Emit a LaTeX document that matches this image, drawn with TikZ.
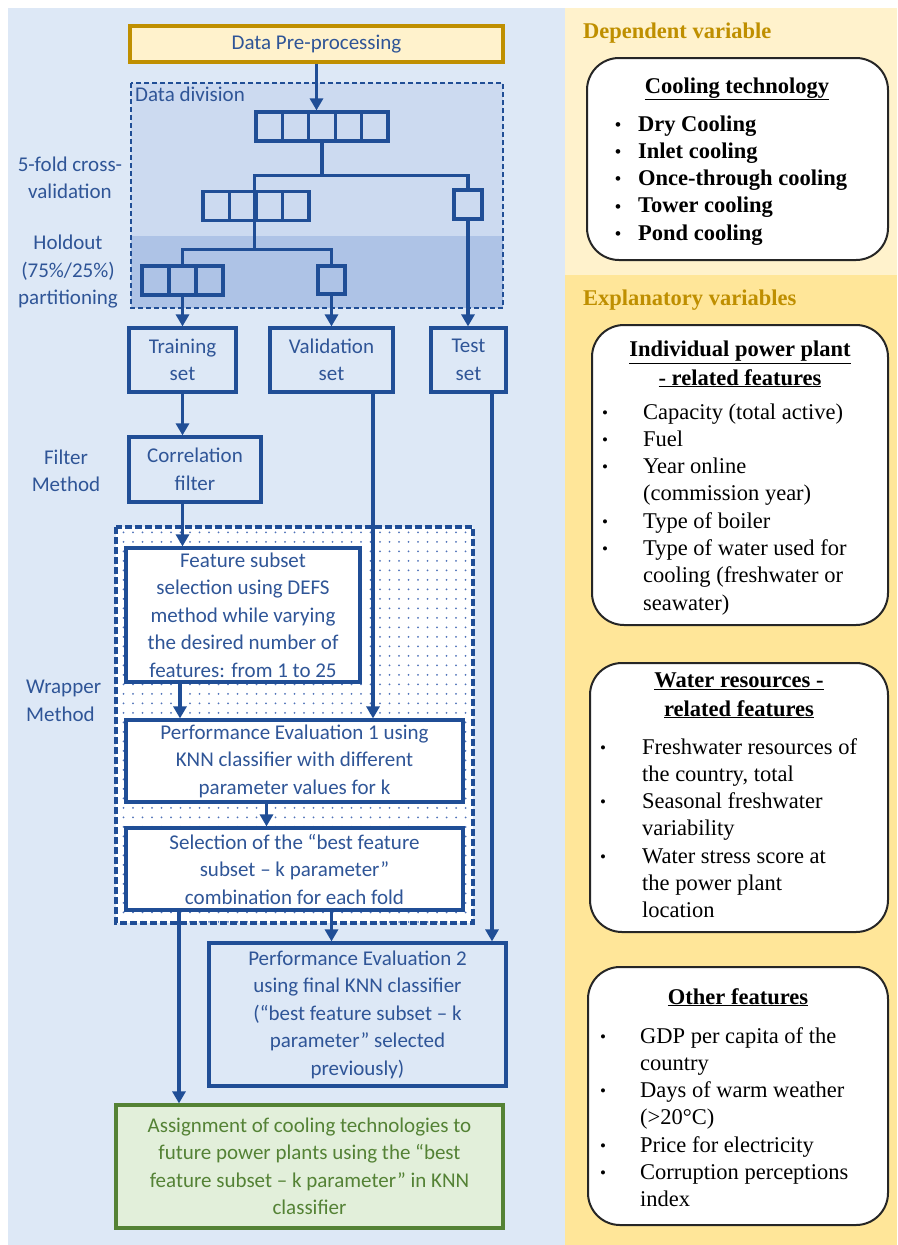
\documentclass[tikz,border=0pt]{standalone}
\usepackage{fontspec}
\setmainfont{Liberation Serif}
\newfontfamily\carlito{Carlito}
\usetikzlibrary{arrows.meta,patterns.meta}
\definecolor{bgblue}{RGB}{221,232,246}
\definecolor{divtop}{RGB}{204,218,240}
\definecolor{divlow}{RGB}{174,195,230}
\definecolor{lineblue}{RGB}{32,78,150}
\definecolor{textblue}{RGB}{47,85,151}
\definecolor{dotblue}{RGB}{80,115,185}
\definecolor{ylight}{RGB}{255,242,204}
\definecolor{ydark}{RGB}{255,230,153}
\definecolor{orangetxt}{RGB}{191,143,0}
\definecolor{greenline}{RGB}{84,130,53}
\definecolor{greenfill}{RGB}{226,239,218}
\newcommand\lefttext{\carlito\fontsize{21}{27.5}\selectfont}
\newcommand\righttext{\fontsize{22.5}{27.3}\selectfont}
\newcommand\bdot{\raisebox{0.03em}{\fontsize{17}{17}\selectfont•}}

\begin{document}
\begin{tikzpicture}[x=1pt, y=-1pt, every node/.style={font=\lefttext, text=textblue},
  box/.style={draw=lineblue, line width=3.2pt, align=center, inner sep=0pt},
  cell/.style={draw=lineblue, line width=3.2pt, inner sep=0pt, minimum width=26.4pt, minimum height=29pt},
  tline/.style={draw=lineblue, line width=3.2pt},
  arr/.style={-{Triangle[length=12pt,width=13pt]}, line width=3.2pt, draw=lineblue},
  side/.style={align=center},
  card/.style={draw=black!85, line width=2pt, fill=white, rounded corners=32pt, inner sep=0pt},
  cardtitle/.style={font=\righttext\bfseries, text=black, anchor=base, align=center, inner sep=0pt},
  cardlist/.style={font=\righttext, text=black, anchor=base west, inner sep=0pt},
  heading/.style={font=\righttext\bfseries, text=orangetxt, anchor=base west, inner sep=0pt}]
\useasboundingbox (0,0) rectangle (897,1245);
% panels
\fill[bgblue] (8,8) rectangle (565,1245);
\fill[ylight] (565,8) rectangle (897,275);
\fill[ydark] (565,275) rectangle (897,1245);
% data division area
\fill[divtop] (131,83) rectangle (503,236);
\fill[divlow] (131,236) rectangle (503,308);
\draw[lineblue, line width=2pt, dash pattern=on 5pt off 3pt] (131,83) rectangle (503,308);
% wrapper area
\draw[lineblue, line width=3.5pt, dash pattern=on 7pt off 3pt, preaction={fill=white}, pattern={Dots[distance=9.5pt,radius=1pt]}, pattern color=dotblue] (116,527) rectangle (473,923);

\node[box, fill=ylight, draw=orangetxt, minimum width=373pt, minimum height=36pt] (pre) at (316.5,44) {Data Pre-processing};
\node[anchor=north west, inner sep=0pt] (divlabel) at (135,87) {Data division};
\foreach \i in {0,...,4} \node[cell] (a\i) at ({269.2+26.4*\i},126.5) {};
\foreach \i in {0,...,3} \node[cell, minimum width=26.5pt] (b\i) at ({216.25+26.5*\i},206) {};
\node[cell, minimum width=28pt] (c) at (468,204.5) {};
\foreach \i in {0,...,2} \node[cell, minimum width=27pt] (d\i) at ({155.5+27*\i},280.5) {};
\node[cell, minimum width=27pt, minimum height=28pt] (e) at (331.5,280) {};

\node[side] (cvlabel) at (70,178) {5-fold cross-\\validation};
\node[side] (holdlabel) at (68,272) {Holdout\\(75\%/25\%)\\partitioning};
\node[side] (filterlabel) at (66,471) {Filter\\Method};
\node[align=left, anchor=west, inner sep=0pt] (wraplabel) at (26,701) {Wrapper\\Method};

\node[box, minimum width=107pt, minimum height=64pt] (train) at (182.5,360) {Training\\set};
\node[box, minimum width=123pt, minimum height=64pt] (valid) at (331.5,360) {Validation\\set};
\node[box, minimum width=75pt, minimum height=64pt] (test) at (468.5,360) {Test\\set};
\node[box, minimum width=132pt, minimum height=65pt] (corr) at (195,469.5) {Correlation\\filter};
\node[box, fill=white, minimum width=234pt, minimum height=134pt] (feat) at (243,615) {Feature subset\\selection using DEFS\\method while varying\\the desired number of\\features: from 1 to 25};
\node[box, fill=white, minimum width=337pt, minimum height=82pt] (pe1) at (294.5,761) {Performance Evaluation 1 using\\KNN classifier with different\\parameter values for k};
\node[box, fill=white, minimum width=337pt, minimum height=82pt] (sel) at (294.5,869) {Selection of the “best feature\\subset – k parameter”\\combination for each fold};
\node[box, minimum width=297pt, minimum height=143pt] (pe2) at (357.5,1014.5) {Performance Evaluation 2\\using final KNN classifier\\(“best feature subset – k\\parameter” selected\\previously)};
\node[box, draw=greenline, fill=greenfill, text=greenline, minimum width=387pt, minimum height=123pt] (assign) at (309.5,1166.5) {Assignment of cooling technologies to\\future power plants using the “best\\feature subset – k parameter” in KNN\\classifier};

% tree of the data division
\draw[arr] (pre.south) -- (pre.south |- a2.north);
\draw[tline] (a2.south) -- ++(0,33) coordinate (j1);
\draw[tline] (b2.north west) |- (j1) -| (c.north);
\draw[tline] (b2.north west) -- (b2.south west) -- ++(0,27) coordinate (j2);
\draw[tline] (d1.north) |- (j2) -| (e.north);
\draw[arr] (d1.south) -- (train.north);
\draw[arr] (e.south) -- (valid.north);
\draw[arr] (c.south) -- (c.south |- test.north);
% flow
\draw[arr] (train.south) -- (train.south |- corr.north);
\draw[arr] (corr.south -| train) -- (feat.north -| train);
\draw[arr] ([xshift=-63pt]feat.south) -- ([xshift=-63pt]feat.south |- pe1.north);
\draw[arr] ([xshift=41.5pt]valid.south) -- ([xshift=41.5pt]valid.south |- pe1.north);
\draw[arr] ([xshift=-28pt]pe1.south) -- ([xshift=-28pt]pe1.south |- sel.north);
\draw[arr] ([xshift=-115.5pt]sel.south) -- ([xshift=-115.5pt]sel.south |- assign.north);
\draw[arr] (sel.south -| e) -- (pe2.north -| e);
\draw[arr] ([xshift=23.5pt]test.south) -- ([xshift=23.5pt]test.south |- pe2.north);

% variables
\node[heading] (dephead) at (583,38) {Dependent variable};
\node[heading] (exphead) at (583,305) {Explanatory variables};
\node[card, minimum width=301pt, minimum height=202pt] (cool) at (737.5,159) {};
\node[cardtitle] (cooltitle) at (737,93) {\underline{Cooling technology}};
\node[cardlist, font=\righttext\bfseries] (coollist) at (615,131) {\begin{tabular}[t]{@{}l@{\hspace{17pt}}l@{}}
\bdot & Dry Cooling\\ \bdot & Inlet cooling\\ \bdot & Once-through cooling\\ \bdot & Tower cooling\\ \bdot & Pond cooling\end{tabular}};
\node[card, minimum width=296pt, minimum height=300pt] (indiv) at (740,475) {};
\node[cardtitle] (indivtitle) at (740,385) {\underline{Individual power plant}\\[0.8pt]\underline{- related features}};
\node[cardlist] (indivlist) at (602,419) {\begin{tabular}[t]{@{}l@{\hspace{35pt}}l@{}}
\bdot & Capacity (total active)\\ \bdot & Fuel\\ \bdot & Year online\\ & (commission year)\\ \bdot & Type of boiler\\ \bdot & Type of water used for\\ & cooling (freshwater or\\ & seawater)\end{tabular}};
\node[card, minimum width=298pt, minimum height=269pt] (water) at (739,797.5) {};
\node[cardtitle] (watertitle) at (739,716) {\underline{Water resources -}\\[0.8pt]\underline{related features}};
\node[cardlist] (waterlist) at (600,754) {\begin{tabular}[t]{@{}l@{\hspace{36pt}}l@{}}
\bdot & Freshwater resources of\\ & the country, total\\ \bdot & Seasonal freshwater\\ & variability\\ \bdot & Water stress score at\\ & the power plant\\ & location\end{tabular}};
\node[card, minimum width=300pt, minimum height=258pt] (other) at (738,1096) {};
\node[cardtitle] (othertitle) at (738,1004) {\underline{Other features}};
\node[cardlist] (otherlist) at (600,1043) {\begin{tabular}[t]{@{}l@{\hspace{34pt}}l@{}}
\bdot & GDP per capita of the\\ & country\\ \bdot & Days of warm weather\\ & (>20°C)\\ \bdot & Price for electricity\\ \bdot & Corruption perceptions\\ & index\end{tabular}};
\end{tikzpicture}
\end{document}
